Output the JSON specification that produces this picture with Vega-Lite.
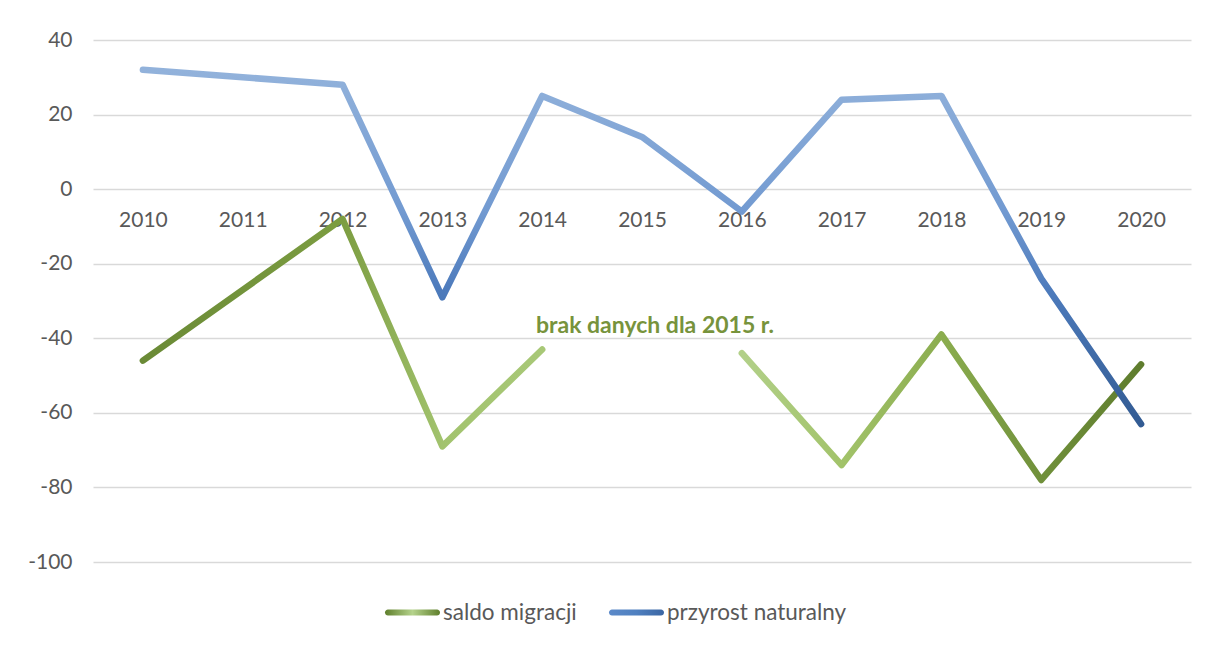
{
  "$schema": "https://vega.github.io/schema/vega-lite/v6.json",
  "width": 1098,
  "height": 522,
  "autosize": {"type": "none"},
  "padding": {"left": 93, "top": 40, "right": 17, "bottom": 84},
  "background": "white",
  "config": {"view": {"stroke": null}, "font": "Lato"},
  "data": {
    "values": [
      {"year": 2010, "series": "saldo migracji", "value": -46},
      {"year": 2011, "series": "saldo migracji", "value": -27},
      {"year": 2012, "series": "saldo migracji", "value": -8},
      {"year": 2013, "series": "saldo migracji", "value": -69},
      {"year": 2014, "series": "saldo migracji", "value": -43},
      {"year": 2015, "series": "saldo migracji", "value": null},
      {"year": 2016, "series": "saldo migracji", "value": -44},
      {"year": 2017, "series": "saldo migracji", "value": -74},
      {"year": 2018, "series": "saldo migracji", "value": -39},
      {"year": 2019, "series": "saldo migracji", "value": -78},
      {"year": 2020, "series": "saldo migracji", "value": -47},
      {"year": 2010, "series": "przyrost naturalny", "value": 32},
      {"year": 2011, "series": "przyrost naturalny", "value": 30},
      {"year": 2012, "series": "przyrost naturalny", "value": 28},
      {"year": 2013, "series": "przyrost naturalny", "value": -29},
      {"year": 2014, "series": "przyrost naturalny", "value": 25},
      {"year": 2015, "series": "przyrost naturalny", "value": 14},
      {"year": 2016, "series": "przyrost naturalny", "value": -6},
      {"year": 2017, "series": "przyrost naturalny", "value": 24},
      {"year": 2018, "series": "przyrost naturalny", "value": 25},
      {"year": 2019, "series": "przyrost naturalny", "value": -24},
      {"year": 2020, "series": "przyrost naturalny", "value": -63}
    ]
  },
  "encoding": {
    "x": {
      "field": "year",
      "type": "ordinal",
      "scale": {"type": "point", "padding": 0.5},
      "axis": {
        "orient": "bottom",
        "offset": -373,
        "domain": false,
        "ticks": false,
        "grid": false,
        "labelAngle": 0,
        "labelPadding": 20,
        "labelFont": "Lato",
        "labelFontSize": 21,
        "labelColor": "#595959",
        "title": null
      }
    },
    "y": {
      "field": "value",
      "type": "quantitative",
      "scale": {"domain": [-100, 40], "nice": false, "zero": false},
      "axis": {
        "values": [-100, -80, -60, -40, -20, 0, 20, 40],
        "labelExpr": "replace(datum.label, '\u2212', '-')",
        "domain": false,
        "ticks": false,
        "grid": true,
        "gridColor": "#d9d9d9",
        "gridWidth": 1.5,
        "labelPadding": 21,
        "labelFont": "Lato",
        "labelFontSize": 21,
        "labelColor": "#595959",
        "title": null
      }
    }
  },
  "layer": [
    {
      "transform": [{"filter": "datum.series === 'saldo migracji'"}],
      "mark": {
        "type": "line",
        "strokeWidth": 6.5,
        "strokeCap": "round",
        "strokeJoin": "round",
        "invalid": "break-paths-show-domains",
        "color": {
          "gradient": "linear",
          "x1": 0, "y1": 0, "x2": 1, "y2": 0,
          "stops": [
            {"offset": 0, "color": "#6a8a36"},
            {"offset": 0.2, "color": "#7c9d41"},
            {"offset": 0.3, "color": "#a2c36e"},
            {"offset": 0.5, "color": "#aecd80"},
            {"offset": 0.6, "color": "#b2d089"},
            {"offset": 0.7, "color": "#a2c36a"},
            {"offset": 0.8, "color": "#8bad4f"},
            {"offset": 0.9, "color": "#70903a"},
            {"offset": 1, "color": "#5f7d2e"}
          ]
        }
      }
    },
    {
      "transform": [{"filter": "datum.series === 'przyrost naturalny'"}],
      "mark": {
        "type": "line",
        "strokeWidth": 6.5,
        "strokeCap": "round",
        "strokeJoin": "round",
        "color": {
          "gradient": "linear",
          "x1": 0, "y1": 0, "x2": 0, "y2": 1,
          "stops": [
            {"offset": 0, "color": "#92b2db"},
            {"offset": 0.4, "color": "#729ad1"},
            {"offset": 0.62, "color": "#4d7bbc"},
            {"offset": 1, "color": "#325b93"}
          ]
        }
      }
    },
    {
      "mark": {"type": "line", "opacity": 0},
      "encoding": {
        "color": {
          "field": "series",
          "type": "nominal",
          "scale": {
            "domain": ["saldo migracji", "przyrost naturalny"],
            "range": ["#77933c", "#4f81bd"]
          },
          "legend": {
            "title": null,
            "orient": "none",
            "legendX": 292,
            "legendY": 545,
            "direction": "horizontal",
            "symbolType": "M-0.89,-0.11L0.89,-0.11A0.11,0.11 0 0 1 0.89,0.11L-0.89,0.11A0.11,0.11 0 0 1 -0.89,-0.11Z",
            "symbolSize": 3025,
            "symbolStrokeWidth": 0,
            "symbolOpacity": 1,
            "labelFont": "Lato",
            "labelFontSize": 22.5,
            "labelColor": "#595959",
            "labelOffset": 3,
            "labelLimit": 400,
            "columnPadding": 32,
            "padding": 0,
            "encode": {
              "symbols": {
                "update": {
                  "fill": {"signal": "datum.value === 'saldo migracji' ? {gradient: 'linear', x1: 0, y1: 0, x2: 1, y2: 0, stops: [{offset: 0, color: '#5f7f2c'}, {offset: 0.5, color: '#b5d38c'}, {offset: 1, color: '#5f7f2c'}]} : {gradient: 'linear', x1: 0, y1: 0, x2: 1, y2: 0, stops: [{offset: 0, color: '#5c8ac9'}, {offset: 0.5, color: '#4f80c0'}, {offset: 1, color: '#3b66a3'}]}"},
                  "stroke": {"value": "transparent"},
                  "strokeWidth": {"value": 0},
                  "opacity": {"value": 1},
                  "fillOpacity": {"value": 1}
                }
              }
            }
          }
        }
      }
    },
    {
      "data": {"values": [{"year": 2015, "value": -38.6, "label": "brak danych dla 2015 r."}]},
      "mark": {
        "type": "text",
        "font": "Lato",
        "fontWeight": "bold",
        "fontSize": 23,
        "color": "#77933c",
        "align": "center",
        "baseline": "alphabetic",
        "dx": 13
      },
      "encoding": {"text": {"field": "label"}}
    }
  ]
}
